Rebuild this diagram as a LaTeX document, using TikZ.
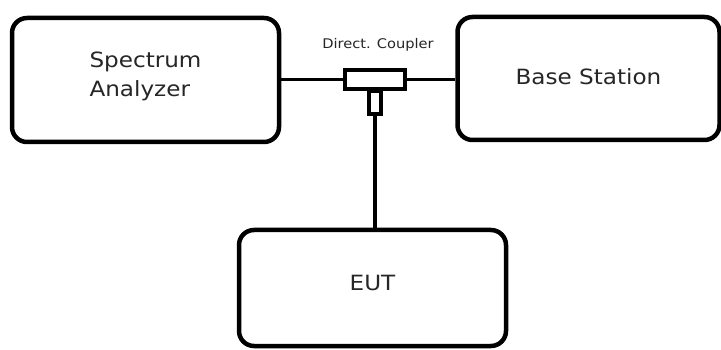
\documentclass[tikz,border=0pt]{standalone}
\usepackage{fontspec}
\newfontfamily\diagfont[FakeStretch=1.1]{DejaVu Sans}
\begin{document}
\begin{tikzpicture}[x=1pt,y=-1pt,
  box/.style={draw=black, line width=4.5pt, rounded corners=15pt, fill=white,
    font=\diagfont\fontsize{21}{29}\selectfont, text=black!85, inner sep=0pt},
  part/.style={draw=black, line width=3.8pt, fill=white, inner sep=0pt},
  wire/.style={draw=black, line width=3.8pt}]
\useasboundingbox (0,0) rectangle (721,350);
\clip (0,0) rectangle (721,350);
\fill[white] (0,0) rectangle (721,350);
\node[box, minimum width=267pt, minimum height=124pt, align=left] (sa) at (145.5,80) {Spectrum\\Analyzer\rule[-11pt]{0pt}{0pt}};
\node[box, minimum width=262pt, minimum height=123pt] (bs) at (588.5,78.5) {Base Station\rule[-4pt]{0pt}{0pt}};
\node[box, minimum width=267pt, minimum height=116pt] (eut) at (372.5,288) {EUT\rule[-10pt]{0pt}{0pt}};
\node[part, minimum width=12pt, minimum height=23pt] (stub) at (375,102.5) {};
\node[part, minimum width=60pt, minimum height=19pt] (dc) at (375,79.5) {};
\node[font=\diagfont\fontsize{13.3}{15}\selectfont, text=black!85, inner sep=0pt] (dclabel) at (378,45) {Direct. Coupler};
\draw[wire] (sa.east |- dc.west) -- (dc.west);
\draw[wire] (dc.east) -- (bs.west |- dc.east);
\draw[wire] (stub.south) -- (stub.south |- eut.north);
\end{tikzpicture}
\end{document}
